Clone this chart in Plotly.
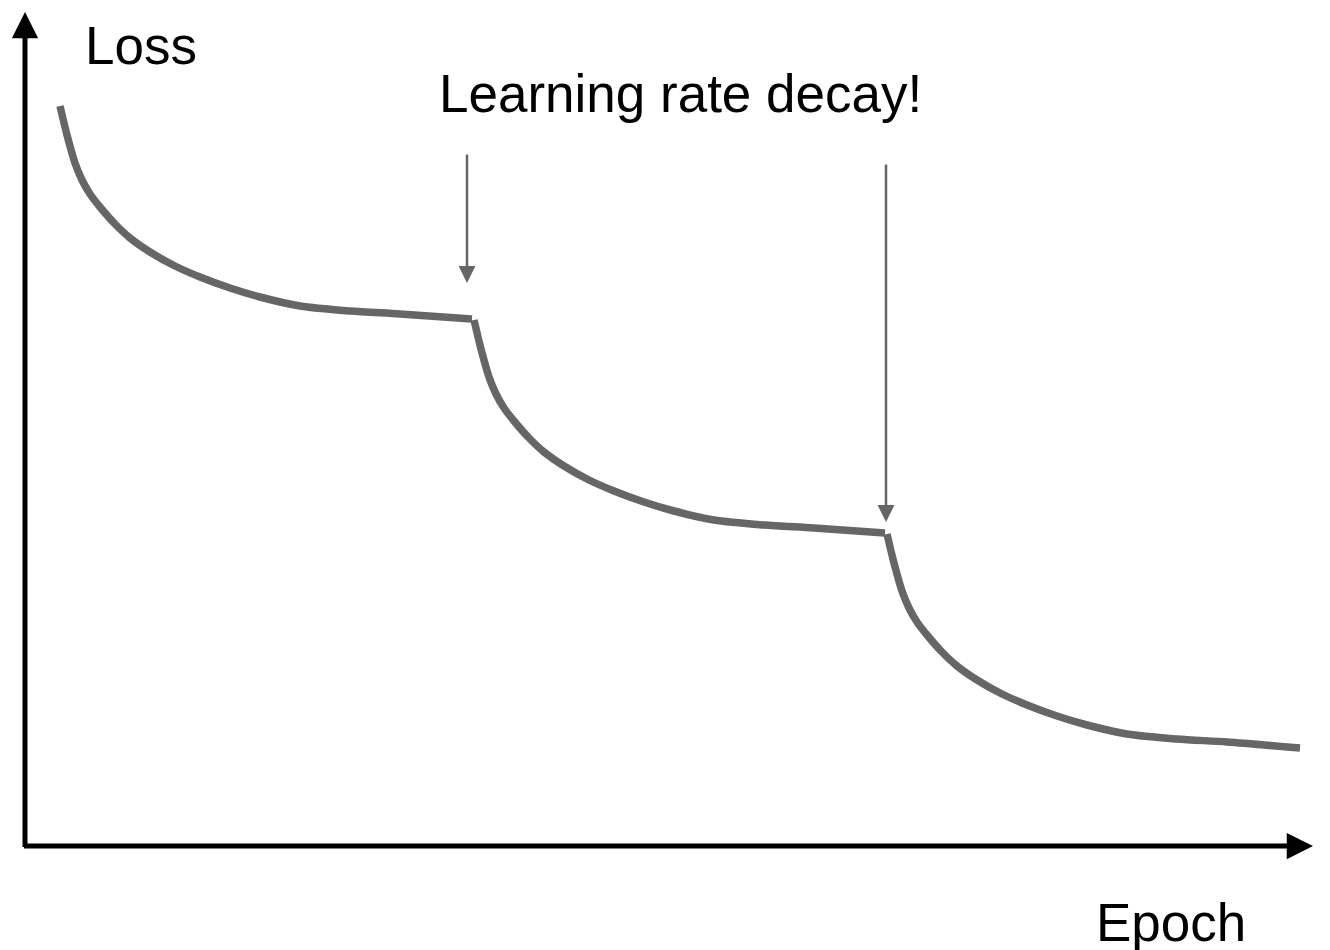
import plotly.graph_objects as go

# Schematic loss curve with step learning-rate decay
epoch_1 = [35, 42, 50, 57, 65, 75, 90, 105, 125, 150, 175, 205, 235, 275, 325, 375, 447]
loss_1 = [740, 711, 683, 666, 652, 639, 622, 608, 594, 580, 569, 558, 549, 540, 535, 532, 527]

epoch_2 = [449, 456, 464, 471, 479, 489, 504, 519, 539, 564, 589, 619, 649, 689, 739, 789, 860]
loss_2 = [526, 497, 469, 452, 438, 425, 408, 394, 380, 366, 355, 344, 335, 326, 321, 318, 313]

epoch_3 = [862, 869, 877, 884, 892, 902, 917, 932, 952, 977, 1002, 1032, 1062, 1102, 1152, 1202, 1275]
loss_3 = [312, 283, 255, 238, 224, 211, 194, 180, 166, 152, 141, 130, 121, 112, 107, 104, 98]

# where the learning rate is decayed (arrow tip epoch / loss)
decay_epoch = [442, 861]
decay_tip = [563, 324]
decay_tail = [693, 683]

curve_color = "#666666"
font = dict(family="Liberation Sans, Arial, sans-serif", size=53, color="black")

fig = go.Figure()
for ex, ly in [(epoch_1, loss_1), (epoch_2, loss_2), (epoch_3, loss_3)]:
    fig.add_trace(go.Scatter(x=ex, y=ly, mode="lines",
                             line=dict(color=curve_color, width=7.5, shape="spline", smoothing=0.8),
                             showlegend=False, hoverinfo="skip"))

annotations = []
# axis arrows
annotations.append(dict(x=0, y=834, ax=0, ay=-2.5, xref="x", yref="y", axref="x", ayref="y",
                        showarrow=True, arrowhead=2, arrowwidth=5, arrowsize=1.05,
                        arrowcolor="black", text="", standoff=0))
annotations.append(dict(x=1288, y=0, ax=-2.5, ay=0, xref="x", yref="y", axref="x", ayref="y",
                        showarrow=True, arrowhead=2, arrowwidth=5, arrowsize=1.05,
                        arrowcolor="black", text="", standoff=0))
# decay arrows
for xe, yt, ya in zip(decay_epoch, decay_tip, decay_tail):
    annotations.append(dict(x=xe, y=yt, ax=xe, ay=ya, xref="x", yref="y", axref="x", ayref="y",
                            showarrow=True, arrowhead=2, arrowwidth=2.5, arrowsize=1.35,
                            arrowcolor=curve_color, text="", standoff=0))
# labels
annotations.append(dict(x=116, y=801, xref="x", yref="y", text="Loss", showarrow=False,
                        font=font, xanchor="center", yanchor="middle"))
annotations.append(dict(x=655, y=753, xref="x", yref="y", text="Learning rate decay!",
                        showarrow=False, font=font, xanchor="center", yanchor="middle"))
annotations.append(dict(x=1146, y=-76, xref="x", yref="y", text="Epoch", showarrow=False,
                        font=font, xanchor="center", yanchor="middle"))

# page has an 8px body margin, so the figure is a little smaller than the window
fig.update_layout(
    width=1322, height=942,
    margin=dict(l=0, r=0, t=0, b=0),
    paper_bgcolor="white", plot_bgcolor="white",
    xaxis=dict(range=[-17, 1305], visible=False, fixedrange=True),
    yaxis=dict(range=[-104, 838], visible=False, fixedrange=True),
    annotations=annotations,
)

fig.write_html("out.html")
